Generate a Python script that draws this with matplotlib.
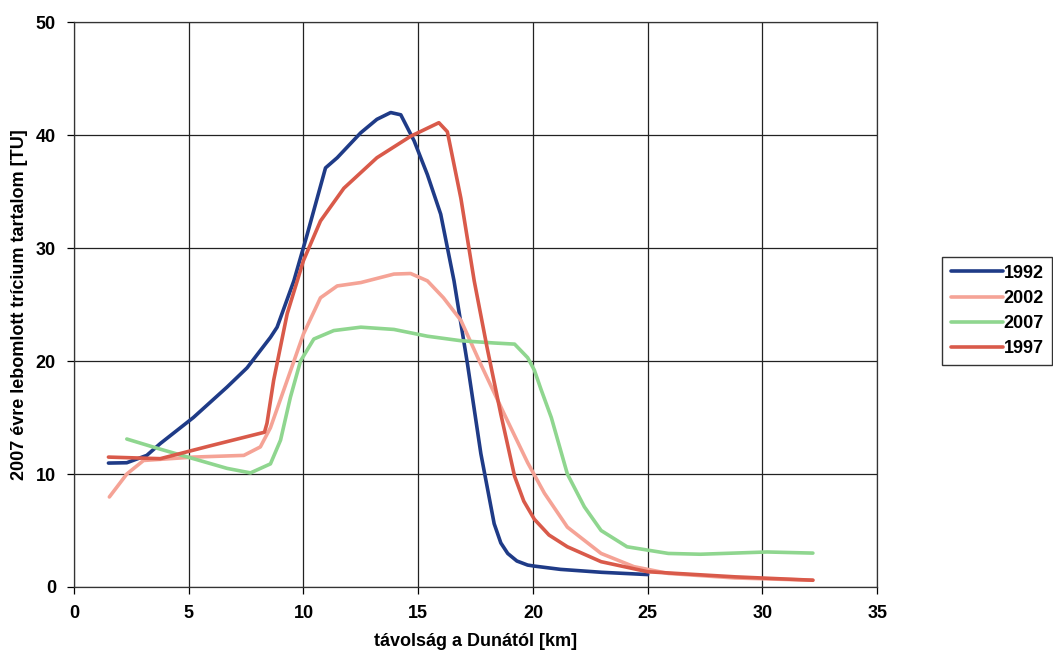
import numpy as np
import matplotlib.pyplot as plt

plt.rcParams['font.family'] = ['Liberation Sans', 'DejaVu Sans']

# --- data ---
x_1992 = [1.5, 2.3, 3.17, 3.76, 5.2, 6.67, 7.54, 8.56, 8.85, 9.58, 10.16, 10.96, 11.47,
          12.49, 13.2, 13.8, 14.24, 14.82, 15.4, 15.98, 16.56, 17.15, 17.73, 18.31,
          18.6, 18.9, 19.3, 19.77, 20.06, 21.2, 23.0, 25.0]
y_1992 = [10.97, 11.0, 11.65, 12.7, 15.0, 17.7, 19.4, 22.1, 23.0, 27.1, 31.2, 37.1, 38.0,
          40.2, 41.4, 42.0, 41.8, 39.5, 36.5, 33.0, 27.1, 19.7, 11.8, 5.6,
          3.9, 2.97, 2.3, 1.94, 1.85, 1.56, 1.3, 1.1]

x_1997 = [1.5, 3.76, 5.94, 8.3, 8.41, 8.7, 9.29, 10.0, 10.74, 11.76, 13.2, 14.67, 15.9,
          16.27, 16.86, 17.44, 18.0, 18.6, 19.2, 19.6, 20.06, 20.7, 21.5, 22.97, 25.0,
          28.8, 32.2]
y_1997 = [11.5, 11.36, 12.5, 13.7, 14.5, 18.3, 24.2, 28.9, 32.4, 35.3, 38.0, 39.9, 41.1,
          40.3, 34.4, 27.1, 21.2, 15.3, 9.8, 7.6, 6.0, 4.6, 3.56, 2.24, 1.35,
          0.9, 0.6]

x_2002 = [1.54, 2.3, 3.03, 5.2, 7.4, 8.12, 8.56, 9.29, 10.0, 10.74, 11.47, 12.5, 13.94,
          14.67, 15.4, 16.1, 16.86, 17.73, 18.75, 19.77, 20.5, 21.5, 22.97, 24.4, 25.9,
          28.8, 32.2]
y_2002 = [7.97, 10.0, 11.2, 11.5, 11.65, 12.4, 14.1, 18.3, 22.4, 25.6, 26.65, 26.95, 27.7,
          27.75, 27.1, 25.6, 23.6, 19.7, 15.3, 11.0, 8.3, 5.3, 2.97, 1.8, 1.2,
          0.8, 0.6]

x_2007 = [2.3, 3.76, 5.2, 6.67, 7.69, 8.56, 9.0, 9.43, 9.87, 10.45, 11.32, 12.5, 13.94,
          15.4, 16.86, 18.31, 19.2, 19.77, 20.06, 20.35, 20.8, 21.5, 22.24, 22.97, 24.1,
          25.9, 27.3, 30.2, 32.2]
y_2007 = [13.1, 12.2, 11.36, 10.5, 10.1, 10.9, 13.0, 16.8, 20.0, 21.95, 22.7, 23.0, 22.8,
          22.2, 21.8, 21.6, 21.5, 20.3, 19.2, 17.5, 15.0, 10.0, 7.1, 5.0, 3.56,
          2.97, 2.9, 3.1, 3.0]

series = [
    ('1992', x_1992, y_1992, '#1f3b87'),
    ('2002', x_2002, y_2002, '#f5a396'),
    ('2007', x_2007, y_2007, '#8fd68f'),
    ('1997', x_1997, y_1997, '#d95a4a'),
]

fig = plt.figure(figsize=(10.53, 6.52), dpi=100)
ax = fig.add_axes([0.0703, 0.0997, 0.7627, 0.8663])

for label, xs, ys, color in series:
    ax.plot(xs, ys, color=color, lw=2.6, label=label,
            solid_joinstyle='round', solid_capstyle='round')

ax.set_xlim(0, 35)
ax.set_ylim(0, 50)
ax.set_xticks(np.arange(0, 36, 5))
ax.set_yticks(np.arange(0, 51, 10))
ax.grid(True, color='#222222', lw=0.9)
ax.set_axisbelow(True)
for s in ax.spines.values():
    s.set_color('#333333')
    s.set_linewidth(0.9)
ax.tick_params(direction='out', length=5, width=0.9, labelsize=13, pad=8)
for t in ax.get_xticklabels() + ax.get_yticklabels():
    t.set_fontweight('bold')

ax.set_xlabel('távolság a Dunától [km]', fontsize=13, fontweight='bold', labelpad=8)
ax.set_ylabel('2007 évre lebomlott trícium tartalom [TU]', fontsize=13,
              fontweight='bold', labelpad=6)

leg = fig.legend(loc='center left', bbox_to_anchor=(0.895, 0.523),
                 prop={'size': 13, 'weight': 'bold'}, frameon=True,
                 fancybox=False, edgecolor='black', handlelength=2.9,
                 handletextpad=0.05, borderpad=0.45, labelspacing=0.45,
                 borderaxespad=0)
leg.get_frame().set_linewidth(1.0)

fig.savefig('out.png', dpi=100)
